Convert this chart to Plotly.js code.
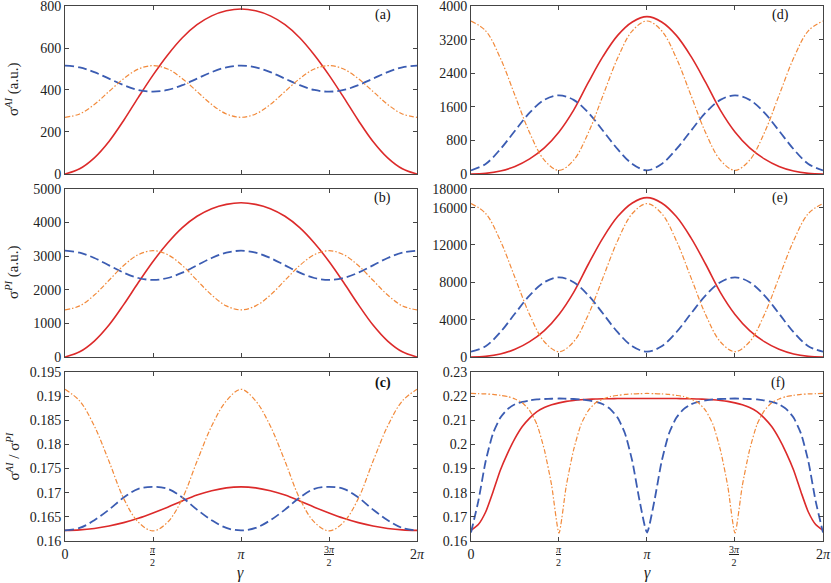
<!DOCTYPE html>
<html>
<head>
<meta charset="utf-8">
<script src="https://cdn.plot.ly/plotly-3.0.1.min.js"></script>
<style>
  html, body { margin: 0; padding: 0; background: #fff; }
  #plot { width: 831px; height: 583px; }
</style>
</head>
<body>
<div id="plot"></div>
<script>
// gamma grid, pi/12 steps (panels a-e) and pi/24 steps (panel f)
var gammaCoarse = [0, 0.2618, 0.5236, 0.7854, 1.0472, 1.3090, 1.5708, 1.8326, 2.0944, 2.3562, 2.6180, 2.8798,
  3.1416, 3.4034, 3.6652, 3.9270, 4.1888, 4.4506, 4.7124, 4.9742, 5.2360, 5.4978, 5.7596, 6.0214, 6.2832]
var gammaFine = [0, 0.1309, 0.2618, 0.3927, 0.5236, 0.6545, 0.7854, 0.9163, 1.0472, 1.1781, 1.3090, 1.4399,
  1.5708, 1.7017, 1.8326, 1.9635, 2.0944, 2.2253, 2.3562, 2.4871, 2.6180, 2.7489, 2.8798, 3.0107,
  3.1416, 3.2725, 3.4034, 3.5343, 3.6652, 3.7961, 3.9270, 4.0579, 4.1888, 4.3197, 4.4506, 4.5815,
  4.7124, 4.8433, 4.9742, 5.1051, 5.2360, 5.3669, 5.4978, 5.6287, 5.7596, 5.8905, 6.0214, 6.1523, 6.2832]

// (a) sigma AI
var aRed = [0, 25, 77, 155, 255, 365, 471, 567, 649, 711, 753, 777, 786, 777, 753, 711, 649, 567, 471, 365, 255, 155, 77, 25, 0]
var aBlue = [516, 508, 485, 454, 423, 400, 392, 400, 423, 454, 485, 508, 516, 508, 485, 454, 423, 400, 392, 400, 423, 454, 485, 508, 516]
var aOrange = [270, 286, 331, 393, 454, 500, 516, 500, 454, 393, 331, 286, 270, 286, 331, 393, 454, 500, 516, 500, 454, 393, 331, 286, 270]

// (b) sigma PI
var bRed = [0, 154, 474, 951, 1558, 2215, 2841, 3391, 3849, 4187, 4414, 4541, 4588, 4541, 4414, 4187, 3849, 3391, 2841, 2215, 1558, 951, 474, 154, 0]
var bBlue = [3162, 3104, 2945, 2727, 2510, 2350, 2292, 2350, 2510, 2727, 2945, 3104, 3162, 3104, 2945, 2727, 2510, 2350, 2292, 2350, 2510, 2727, 2945, 3104, 3162]
var bOrange = [1402, 1520, 1842, 2282, 2722, 3044, 3162, 3044, 2722, 2282, 1842, 1520, 1402, 1520, 1842, 2282, 2722, 3044, 3162, 3044, 2722, 2282, 1842, 1520, 1402]

// (c) ratio
var cRed = [0.1622, 0.1623, 0.1626, 0.1631, 0.1638, 0.1647, 0.1658, 0.1670, 0.1683, 0.1695, 0.1704, 0.1710, 0.1712,
  0.1710, 0.1704, 0.1695, 0.1683, 0.1670, 0.1658, 0.1647, 0.1638, 0.1631, 0.1626, 0.1623, 0.1622]
var cBlue = [0.1622, 0.1627, 0.1643, 0.1665, 0.1690, 0.1708, 0.1712, 0.1708, 0.1690, 0.1665, 0.1643, 0.1627, 0.1622,
  0.1627, 0.1643, 0.1665, 0.1690, 0.1708, 0.1712, 0.1708, 0.1690, 0.1665, 0.1643, 0.1627, 0.1622]
var cOrange = [0.1914, 0.1890, 0.1838, 0.1765, 0.1688, 0.1639, 0.1621, 0.1639, 0.1688, 0.1765, 0.1838, 0.1890, 0.1914,
  0.1890, 0.1838, 0.1765, 0.1688, 0.1639, 0.1621, 0.1639, 0.1688, 0.1765, 0.1838, 0.1890, 0.1914]

// (d)
var dRed = [0, 15, 70, 180, 360, 620, 1000, 1520, 2180, 2800, 3300, 3620, 3746, 3620, 3300, 2800, 2180, 1520, 1000, 620, 360, 180, 70, 15, 0]
var dBlue = [87, 240, 590, 1030, 1460, 1765, 1873, 1765, 1460, 1030, 590, 240, 87, 240, 590, 1030, 1460, 1765, 1873, 1765, 1460, 1030, 590, 240, 87]
var dOrange = [3643, 3410, 2760, 1870, 980, 330, 87, 330, 980, 1870, 2760, 3410, 3643, 3410, 2760, 1870, 980, 330, 87, 330, 980, 1870, 2760, 3410, 3643]

// (e)
var eRed = [0, 68, 319, 820, 1640, 2825, 4557, 6927, 9934, 12760, 15040, 16500, 17070, 16500, 15040, 12760, 9934, 6927, 4557, 2825, 1640, 820, 319, 68, 0]
var eBlue = [570, 1150, 2650, 4650, 6600, 8010, 8535, 8010, 6600, 4650, 2650, 1150, 570, 1150, 2650, 4650, 6600, 8010, 8535, 8010, 6600, 4650, 2650, 1150, 570]
var eOrange = [16430, 15370, 12465, 8500, 4535, 1630, 570, 1630, 4535, 8500, 12465, 15370, 16430, 15370, 12465, 8500, 4535, 1630, 570, 1630, 4535, 8500, 12465, 15370, 16430]

// (f)
var fRed = [0.1644, 0.1668, 0.1720, 0.1803, 0.1893, 0.1964, 0.2025, 0.2074, 0.2109, 0.2136, 0.2153, 0.2164, 0.2172,
  0.2178, 0.2182, 0.2185, 0.2187, 0.2188, 0.2189, 0.2189, 0.2190, 0.2190, 0.2190, 0.2190, 0.2190,
  0.2190, 0.2190, 0.2190, 0.2190, 0.2189, 0.2189, 0.2188, 0.2187, 0.2185, 0.2182, 0.2178, 0.2172,
  0.2164, 0.2153, 0.2136, 0.2109, 0.2074, 0.2025, 0.1964, 0.1893, 0.1803, 0.1720, 0.1668, 0.1644]
var fBlue = [0.1635, 0.1765, 0.1930, 0.2045, 0.2110, 0.2146, 0.2166, 0.2176, 0.2182, 0.2186, 0.2188, 0.2189, 0.2190,
  0.2189, 0.2188, 0.2186, 0.2182, 0.2176, 0.2166, 0.2146, 0.2110, 0.2045, 0.1930, 0.1765, 0.1635,
  0.1765, 0.1930, 0.2045, 0.2110, 0.2146, 0.2166, 0.2176, 0.2182, 0.2186, 0.2188, 0.2189, 0.2190,
  0.2189, 0.2188, 0.2186, 0.2182, 0.2176, 0.2166, 0.2146, 0.2110, 0.2045, 0.1930, 0.1765, 0.1635]
var fOrange = [0.2211, 0.2210, 0.2209, 0.2207, 0.2203, 0.2198, 0.2188, 0.2172, 0.2140, 0.2082, 0.1978, 0.1830, 0.1633,
  0.1830, 0.1978, 0.2082, 0.2140, 0.2172, 0.2188, 0.2198, 0.2203, 0.2207, 0.2209, 0.2210, 0.2211,
  0.2210, 0.2209, 0.2207, 0.2203, 0.2198, 0.2188, 0.2172, 0.2140, 0.2082, 0.1978, 0.1830, 0.1633,
  0.1830, 0.1978, 0.2082, 0.2140, 0.2172, 0.2188, 0.2198, 0.2203, 0.2207, 0.2209, 0.2210, 0.2211]

var xTickVals = [0, 1.5708, 3.1416, 4.7124, 6.2832]
var xTickText = ['0', '', '<i>π</i>', '', '2<i>π</i>']
var panelLabels = ['(a)', '(b)', '<b>(c)</b>', '(d)', '(e)', '(f)']

var RED = '#dc2a2a', BLUE = '#3b5cb2', ORANGE = '#f28a3b'
var FONT = 'Liberation Serif'

function line(x, y, xa, ya, kind, smooth) {
    var s = { x: x, y: y, xaxis: xa, yaxis: ya, mode: 'lines', showlegend: false, hoverinfo: 'skip' }
    if (kind == 'red') s.line = { color: RED, width: 1.6, shape: 'spline', smoothing: smooth }
    if (kind == 'blue') s.line = { color: BLUE, width: 1.8, dash: '9px,4px', shape: 'spline', smoothing: smooth }
    if (kind == 'orange') s.line = { color: ORANGE, width: 1.2, dash: '5px,2px,1.5px,2px', shape: 'spline', smoothing: smooth }
    return s
}

var data = [
    line(gammaCoarse, aRed, 'x', 'y', 'red', 1), line(gammaCoarse, aBlue, 'x', 'y', 'blue', 1), line(gammaCoarse, aOrange, 'x', 'y', 'orange', 1),
    line(gammaCoarse, bRed, 'x2', 'y2', 'red', 1), line(gammaCoarse, bBlue, 'x2', 'y2', 'blue', 1), line(gammaCoarse, bOrange, 'x2', 'y2', 'orange', 1),
    line(gammaCoarse, cRed, 'x3', 'y3', 'red', 1), line(gammaCoarse, cBlue, 'x3', 'y3', 'blue', 1), line(gammaCoarse, cOrange, 'x3', 'y3', 'orange', 1),
    line(gammaCoarse, dRed, 'x4', 'y4', 'red', 1), line(gammaCoarse, dBlue, 'x4', 'y4', 'blue', 1), line(gammaCoarse, dOrange, 'x4', 'y4', 'orange', 1),
    line(gammaCoarse, eRed, 'x5', 'y5', 'red', 1), line(gammaCoarse, eBlue, 'x5', 'y5', 'blue', 1), line(gammaCoarse, eOrange, 'x5', 'y5', 'orange', 1),
    line(gammaFine, fRed, 'x6', 'y6', 'red', 0.6), line(gammaFine, fBlue, 'x6', 'y6', 'blue', 0.6), line(gammaFine, fOrange, 'x6', 'y6', 'orange', 0.6)
]

function axis(o) {
    var a = {
        showline: true, mirror: 'ticks', linecolor: '#444', linewidth: 1,
        ticks: 'inside', ticklen: 4, tickcolor: '#444', tickwidth: 1,
        showgrid: false, zeroline: false, fixedrange: true,
        tickfont: { family: FONT, size: 14, color: '#222' },
        ticklabeloverflow: 'allow', exponentformat: 'none'
    }
    for (var k in o) a[k] = o[k]
    return a
}

var colX = [[0, 0.4644], [0.5356, 1]]
var rowY = [[0.686, 1], [0.344, 0.658], [0, 0.316]]

function xax(col, row, anchor) {
    return axis({ domain: colX[col], anchor: anchor, range: [0, 6.2832], tickmode: 'array', tickvals: xTickVals,
        ticktext: xTickText, showticklabels: row == 2 })
}

var layout = {
    width: 831, height: 583,
    margin: { l: 65, r: 8, t: 6, b: 42 },
    paper_bgcolor: '#fff', plot_bgcolor: '#fff',
    font: { family: FONT, color: '#222' },
    xaxis: xax(0, 0, 'y'), xaxis2: xax(0, 1, 'y2'), xaxis3: xax(0, 2, 'y3'),
    xaxis4: xax(1, 0, 'y4'), xaxis5: xax(1, 1, 'y5'), xaxis6: xax(1, 2, 'y6'),
    yaxis: axis({ domain: rowY[0], anchor: 'x', range: [0, 800], dtick: 200 }),
    yaxis2: axis({ domain: rowY[1], anchor: 'x2', range: [0, 5000], dtick: 1000 }),
    yaxis3: axis({ domain: rowY[2], anchor: 'x3', range: [0.16, 0.195], dtick: 0.005 }),
    yaxis4: axis({ domain: rowY[0], anchor: 'x4', range: [0, 4000], dtick: 800, tickformat: 'd' }),
    yaxis5: axis({ domain: rowY[1], anchor: 'x5', range: [0, 18000], tickmode: 'array', tickvals: [0, 4000, 8000, 12000, 16000, 18000], tickformat: 'd' }),
    yaxis6: axis({ domain: rowY[2], anchor: 'x6', range: [0.16, 0.23], dtick: 0.01 }),
    annotations: []
}

// panel letters
var labelPos = [[0.903, 0.946], [0.903, 0.946], [0.903, 0.935], [0.878, 0.946], [0.878, 0.946], [0.872, 0.935]]
panelLabels.forEach(function(t, i) {
    var n = i == 0 ? '' : String(i + 1)
    layout.annotations.push({ text: t, xref: 'x' + n + ' domain', yref: 'y' + n + ' domain',
        x: labelPos[i][0], y: labelPos[i][1], xanchor: 'center', yanchor: 'middle', showarrow: false,
        font: { family: FONT, size: 14, color: '#111' } })
})

// fraction tick labels pi/2 and 3pi/2 on the bottom row
;['x3', 'x6'].forEach(function(xa) {
    layout.annotations.push({ text: '<u><i>π</i></u><br>2', xref: xa, yref: 'paper', x: 1.5708, y: 0, xanchor: 'center', yanchor: 'top', yshift: -1,
        showarrow: false, font: { family: FONT, size: 10, color: '#222' } })
    layout.annotations.push({ text: '<u>3<i>π</i></u><br>2', xref: xa, yref: 'paper', x: 4.7124, y: 0, xanchor: 'center', yanchor: 'top', yshift: -1,
        showarrow: false, font: { family: FONT, size: 10, color: '#222' } })
})

// y titles
var yTitles = ['σ<sup><i>AI</i></sup> (a.u.)', 'σ<sup><i>PI</i></sup> (a.u.)', 'σ<sup><i>AI</i></sup> / σ<sup><i>PI</i></sup>']
yTitles.forEach(function(t, i) {
    layout.annotations.push({ text: t, xref: 'paper', yref: 'paper', x: -0.0686, y: (rowY[i][0] + rowY[i][1]) / 2,
        xanchor: 'center', yanchor: 'middle', textangle: -90, showarrow: false, font: { family: FONT, size: 15, color: '#222' } })
})

// x titles
;[0.232, 0.768].forEach(function(x) {
    layout.annotations.push({ text: '<i>γ</i>', xref: 'paper', yref: 'paper', x: x, y: -0.06, xanchor: 'center', yanchor: 'middle',
        showarrow: false, font: { family: FONT, size: 16, color: '#222' } })
})

Plotly.newPlot('plot', data, layout, { displayModeBar: false, staticPlot: true })
</script>
</body>
</html>
